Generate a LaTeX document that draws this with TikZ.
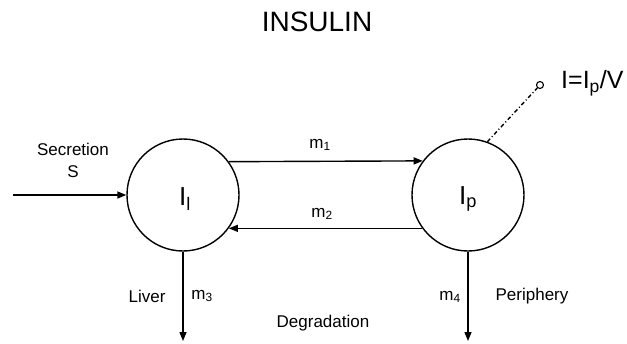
\documentclass[tikz,border=0pt]{standalone}
\usepackage{fontspec}
\setmainfont{Liberation Sans}
\usetikzlibrary{arrows.meta}
\tikzset{
  comp/.style={draw, circle, line width=1.4pt, minimum size=112pt, inner sep=0pt},
  flow/.style={line width=1.4pt, -{Triangle[length=9pt,width=7pt]}},
  lbl/.style={font=\fontsize{17}{19}\selectfont, inner sep=0pt},
  var/.style={font=\fontsize{26}{28}\selectfont, inner sep=0pt},
}
\begin{document}
\begin{tikzpicture}[x=1pt,y=-1pt]
\useasboundingbox (0,0) rectangle (627,343);
\node[font=\fontsize{28}{30}\selectfont, inner sep=0pt] (title) at (317,22) {INSULIN};
\node[comp] (L) at (183,195) {};
\node[comp] (R) at (468,195) {};
\node[var] (Ll) at (185,199) {I\textsubscript{l}};
\node[var] (Rp) at (468,199) {I\textsubscript{p}};
\coordinate (in) at (13,195);
\coordinate (d3) at (183,341);
\coordinate (d4) at (468,341);
\node[draw, circle, line width=1.1pt, minimum size=7pt, inner sep=0pt] (obs) at (540,85) {};
\node[var, anchor=west, font=\fontsize{25}{27}\selectfont] (eq) at (561,83) {I=I\textsubscript{p}/V};
\draw[flow] (in) -- (L.west);
\draw[flow] (L.36.87) -- (R.143.13);
\draw[flow] (R.216.87) -- (L.-36.87);
\draw[flow] (L.south) -- (d3);
\draw[flow] (R.south) -- (d4);
\draw[line width=1.4pt, dash pattern=on 4pt off 2.5pt on 1pt off 2.5pt] (R.70) -- (obs);
\node[lbl] (sec) at (73,149) {Secretion};
\node[lbl] (S) at (73,172) {S};
\node[lbl] (m1) at (320,145) {m\textsubscript{1}};
\node[lbl] (m2) at (322,214) {m\textsubscript{2}};
\node[lbl] (liver) at (147,296) {Liver};
\node[lbl] (m3) at (202,296) {m\textsubscript{3}};
\node[lbl] (m4) at (450,297) {m\textsubscript{4}};
\node[lbl] (per) at (532,296) {Periphery};
\node[lbl] (deg) at (323,323) {Degradation};
\end{tikzpicture}
\end{document}
